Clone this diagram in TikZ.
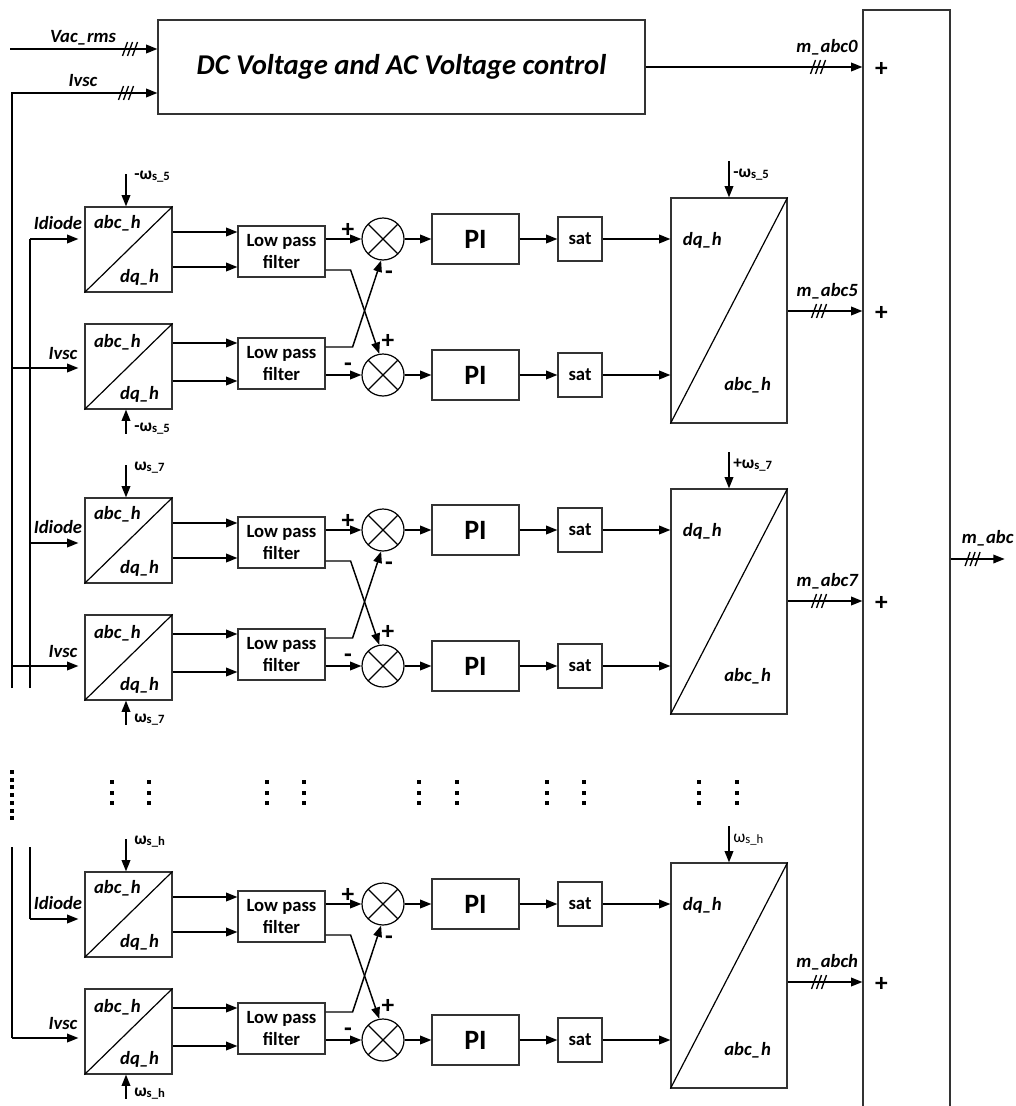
\documentclass[tikz,border=0pt]{standalone}
\usepackage{fontspec}
\setmainfont{Carlito}
\usetikzlibrary{arrows.meta,calc}
\tikzset{
  wire/.style={line width=1.1pt, draw=black},
  arr/.style={wire, -{Triangle[length=8.5pt,width=6.5pt]}},
  blk/.style={draw=black!80, line width=0.9pt, rectangle, inner sep=0pt},
  sz/.style 2 args={minimum width=#1*0.75pt, minimum height=#2*0.75pt},
  lab/.style={inner sep=0pt, font=\fontsize{14}{16}\selectfont\bfseries\itshape},
  txt/.style={inner sep=0pt, font=\fontsize{14}{16.3}\selectfont\bfseries, align=center},
  pitxt/.style={font=\fontsize{21}{21}\selectfont\bfseries},
  sgn/.style={inner sep=0pt, font=\fontsize{19}{19}\selectfont\bfseries},
  omg/.style={inner sep=0pt, font=\fontsize{13}{13}\selectfont\bfseries},
  sumc/.style={circle, draw=black, line width=0.9pt, minimum size=42*0.75pt, inner sep=0pt,
    path picture={\draw[line width=0.9pt] (path picture bounding box.north west) -- (path picture bounding box.south east)
      (path picture bounding box.north east) -- (path picture bounding box.south west);}},
  tri/.pic={\draw[line width=1pt] (-7.5,7) -- (-2.5,-7) (-2.5,7) -- (2.5,-7) (2.5,7) -- (7.5,-7);},
  sq/.pic={\fill (-2,-2) rectangle (2,2);},
  vd/.pic={\fill (-2,-2) rectangle (2,2); \fill (-2,8.5) rectangle (2,12.5); \fill (-2,19) rectangle (2,23);},
}
\newcommand\omlab[2]{#1ω\raisebox{-1pt}{\fontsize{9.5}{9.5}\selectfont s\_#2}}
\newcommand\harmgroup[9]{%
\begin{scope}[shift={(0,#2)}]
 % abc/dq transforms
 \node[blk,sz={87}{85}] (#1b1) at (128.5,249.5) {};
 \node[blk,sz={87}{85}] (#1b2) at (128.5,366.5) {};
 \draw[line width=0.9pt] (#1b1.south west) -- (#1b1.north east);
 \draw[line width=0.9pt] (#1b2.south west) -- (#1b2.north east);
 \node[lab,anchor=base] (#1a1) at ($(#1b1.north west)+(33,22)$) {abc\_h};
 \node[lab,anchor=base] (#1d1) at ($(#1b1.south east)+(-33,-10)$) {dq\_h};
 \node[lab,anchor=base] (#1a2) at ($(#1b2.north west)+(33,24)$) {abc\_h};
 \node[lab,anchor=base] (#1d2) at ($(#1b2.south east)+(-33,-10)$) {dq\_h};
 % omega inputs
 \coordinate (#1wt) at ($(#1b1.north)+(-2.5,-32)$);
 \draw[arr] (#1wt) -- (#1wt |- #1b1.north);
 \node[omg,anchor=west] (#1wtl) at ($(#1wt)+(8,2)$) {#3};
 \coordinate (#1wb) at ($(#1b2.south)+(-2.5,24)$);
 \draw[arr] (#1wb) -- (#1wb |- #1b2.south);
 \node[omg,anchor=west] (#1wbl) at ($(#1wb)+(8,-5)$) {#4};
 % inputs
 \draw[arr,shorten >=4.5pt] (L2 |- 0,#6) -- (#1b1.west |- 0,#6);
 \node[lab,anchor=base] (#1il) at (58,{#6-10}) {Idiode};
 \draw[arr,shorten >=4.5pt] (L1 |- 0,#7) -- (#1b2.west |- 0,#7);
 \node[lab,anchor=base] (#1vl) at (63,{#7-9}) {Ivsc};
 % low pass filters
 \node[blk,sz={87}{51},txt] (#1l1) at (281.5,251.5) {Low pass\\filter};
 \node[blk,sz={87}{51},txt] (#1l2) at (281.5,363.5) {Low pass\\filter};
 \draw[arr] (#1b1.east |- 0,232) -- (#1l1.west |- 0,232);
 \draw[arr] (#1b1.east |- 0,267) -- (#1l1.west |- 0,267);
 \draw[arr] (#1b2.east |- 0,343) -- (#1l2.west |- 0,343);
 \draw[arr] (#1b2.east |- 0,381) -- (#1l2.west |- 0,381);
 % summing junctions
 \node[sumc] (#1c1) at (383,239) {};
 \node[sumc] (#1c2) at (383,375) {};
 \draw[arr] (#1l1.east |- #1c1) -- (#1c1.west);
 \draw[arr] (#1l2.east |- #1c2) -- (#1c2.west);
 \draw[arr] (#1l1.east |- 0,270) -- ++(25,0) -- (#1c2.100);
 \draw[arr] (#1l2.east |- 0,347) -- ++(27,0) -- (#1c1.-95);
 \node[sgn] (#1s1) at (348,230) {+};
 \node[sgn] (#1s2) at (389,275) {-};
 \node[sgn] (#1s3) at (388,341) {+};
 \node[sgn] (#1s4) at (348,367) {-};
 % PI and saturation
 \node[blk,sz={87}{50},pitxt] (#1p1) at (475.5,239) {PI};
 \node[blk,sz={87}{50},pitxt] (#1p2) at (475.5,375) {PI};
 \node[blk,sz={44}{44},txt] (#1t1) at (580,239) {sat};
 \node[blk,sz={44}{44},txt] (#1t2) at (580,375) {sat};
 \draw[arr] (#1c1.east) -- (#1p1.west);
 \draw[arr] (#1c2.east) -- (#1p2.west);
 \draw[arr] (#1p1.east) -- (#1t1.west);
 \draw[arr] (#1p2.east) -- (#1t2.west);
 % dq/abc inverse transform
 \node[blk,sz={116}{225}] (#1g) at (729,310.5) {};
 \draw[line width=0.9pt] (#1g.south west) -- (#1g.north east);
 \node[lab,anchor=base] (#1gd) at ($(#1g.north west)+(32,48)$) {dq\_h};
 \node[lab,anchor=base] (#1ga) at ($(#1g.south east)+(-40,-33)$) {abc\_h};
 \draw[arr] (#1t1.east) -- (#1g.west |- #1t1.east);
 \draw[arr] (#1t2.east) -- (#1g.west |- #1t2.east);
 \coordinate (#1wg) at ($(#1g.north)+(0,-36)$);
 \draw[arr] (#1wg) -- (#1g.north);
 \node[omg,anchor=west] (#1wgl) at ($(#1wg)+(4,13)$) {#5};
 % output
 \coordinate (#1o) at (#1g.east |- 0,#9);
 \coordinate (#1oe) at (sum.west |- 0,#9);
 \draw[arr] (#1o) -- (#1oe);
 \path ($(#1o)!0.42!(#1oe)$) pic{tri};
 \node[lab,anchor=base] (#1ml) at ($(#1o)!0.53!(#1oe)+(0,-15)$) {#8};
 \node[sgn] (#1pl) at ($(#1oe)+(19,2)$) {+};
\end{scope}}

\begin{document}
\begin{tikzpicture}[x=0.75pt,y=-0.75pt]
\useasboundingbox (0,0) rectangle (1015,1106);
\clip (0,0) rectangle (1015,1106);
% summing bar
\node[blk,sz={87}{1100}] (sum) at (906.5,560) {};
\coordinate (mo) at (sum.east |- 0,559);
\draw[arr] (mo) -- ++(54,0);
\path ($(mo)+(22,0)$) pic{tri};
\node[lab,anchor=base] (mol) at ($(mo)+(37,-16)$) {m\_abc};
% top control block
\node[blk,sz={487}{94},font=\fontsize{21.5}{21.5}\selectfont\bfseries\itshape] (dcv) at (401.5,67) {DC Voltage and AC Voltage control};
\coordinate (vin) at (10,49);
\draw[arr] (vin) -- (dcv.west |- vin);
\path (130,49) pic{tri};
\node[lab,anchor=base] (vinl) at (83,43) {Vac\_rms};
\coordinate (L1) at (12,688);
\coordinate (L2) at (30,688);
\draw[arr] (L1) |- (dcv.west |- 0,93);
\path (126,93) pic{tri};
\node[lab,anchor=base] (ivl) at (83,87) {Ivsc};
\draw[wire] (L2) -- (L2 |- 0,239);
\coordinate (m0) at (dcv.east |- 0,67);
\coordinate (m0e) at (sum.west |- 0,67);
\draw[arr] (m0) -- (m0e);
\path (818,67) pic{tri};
\node[lab,anchor=base] (m0l) at (827,53) {m\_abc0};
\node[sgn] (m0p) at ($(m0e)+(19,2)$) {+};
% groups
\harmgroup{a}{0}{\omlab{-}{5}}{\omlab{-}{5}}{\omlab{-}{5}}{239}{368}{m\_abc5}{311}
\harmgroup{b}{291}{\omlab{}{7}}{\omlab{}{7}}{\omlab{+}{7}}{252}{375}{m\_abc7}{310}
\coordinate (L1h) at (12,847);
\coordinate (L2h) at (30,847);
\draw[wire] (L1h) -- (L1h |- 0,1038);
\draw[wire] (L2h) -- (L2h |- 0,919);
\harmgroup{c}{665}{\omlab{}{h}}{\omlab{}{h}}{{\mdseries\omlab{}{h}}}{254}{373}{m\_abch}{317}
% ellipsis dots
\foreach \k in {0,...,6} {\path (12,{772+7.7*\k}) pic{sq};}
\foreach \xx in {112,149,267,304,419,457,547,584,699,737} {\path (\xx,782) pic{vd};}
\end{tikzpicture}
\end{document}
